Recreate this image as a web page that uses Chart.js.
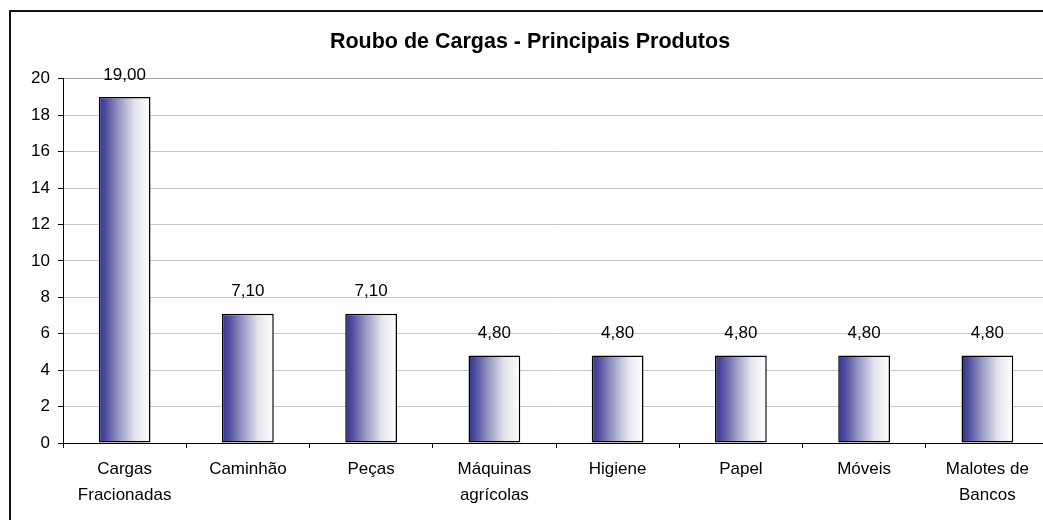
<!DOCTYPE html>
<html>
<head>
<meta charset="utf-8">
<script src="https://cdn.jsdelivr.net/npm/chart.js@4"></script>
<style>
  html, body { margin: 0; padding: 0; background: #fff; overflow: hidden; width: 1043px; height: 520px; }
  #box { position: absolute; left: 9px; top: 10px; width: 1060px; height: 530px; border-left: 2px solid #111; border-top: 2px solid #111; box-sizing: border-box; background: #fff; }
  #wrap { position: absolute; left: 0; top: 0; width: 1058px; height: 528px; }
</style>
</head>
<body>
<div id="box"><div id="wrap"><canvas id="c"></canvas></div></div>
<script>
const categories = [
  ['Cargas', 'Fracionadas'],
  'Caminhão',
  'Peças',
  ['Máquinas', 'agrícolas'],
  'Higiene',
  'Papel',
  'Móveis',
  ['Malotes de', 'Bancos']
];
const values = [19.00, 7.10, 7.10, 4.80, 4.80, 4.80, 4.80, 4.80];
const yTicks = [0, 2, 4, 6, 8, 10, 12, 14, 16, 18, 20];
const titleText = 'Roubo de Cargas - Principais Produtos';

const BAR_PCT = 0.42;
const FONT = 'Arial, "Liberation Sans", sans-serif';

function barGradient(c) {
  const chart = c.chart;
  const xs = chart.scales && chart.scales.x;
  if (!xs || !chart.chartArea || c.dataIndex === undefined || !isFinite(xs.width) || xs.width <= 0) return '#7777b0';
  const cx = xs.getPixelForValue(c.dataIndex);
  const w = xs.width / categories.length * BAR_PCT;
  const g = chart.ctx.createLinearGradient(cx - w / 2, 0, cx + w / 2, 0);
  g.addColorStop(0, '#333390');
  g.addColorStop(0.12, '#4a4a9c');
  g.addColorStop(0.4, '#9a9ac4');
  g.addColorStop(0.7, '#e4e4ee');
  g.addColorStop(1, '#ffffff');
  return g;
}

const valueLabels = {
  id: 'valueLabels',
  afterDatasetsDraw(chart) {
    const ctx = chart.ctx;
    const meta = chart.getDatasetMeta(0);
    ctx.save();
    ctx.font = '17px ' + FONT;
    ctx.fillStyle = '#000';
    ctx.textAlign = 'center';
    ctx.textBaseline = 'middle';
    meta.data.forEach((bar, i) => {
      const txt = values[i].toFixed(2).replace('.', ',');
      ctx.fillText(txt, bar.x, bar.y - 22);
    });
    ctx.restore();
  }
};

new Chart(document.getElementById('c'), {
  type: 'bar',
  data: {
    labels: categories,
    datasets: [{
      data: values,
      backgroundColor: barGradient,
      borderColor: '#000',
      borderWidth: 1.5,
      borderSkipped: false,
      barPercentage: BAR_PCT,
      categoryPercentage: 1.0
    }]
  },
  options: {
    responsive: true,
    maintainAspectRatio: false,
    animation: false,
    devicePixelRatio: 1,
    layout: { padding: { left: 0, right: 20, top: 0, bottom: 0 } },
    plugins: {
      legend: { display: false },
      tooltip: { enabled: false },
      title: {
        display: true,
        text: titleText,
        color: '#000',
        font: { family: FONT, size: 21.5, weight: 'bold', lineHeight: 1.2 },
        padding: { top: 17, bottom: 24 }
      }
    },
    scales: {
      x: {
        offset: true,
        grid: { offset: true, drawOnChartArea: false, drawTicks: true, tickLength: 5, color: '#000', tickColor: '#000' },
        border: { display: true, color: '#000', width: 1 },
        ticks: { color: '#000', font: { family: FONT, size: 17, lineHeight: 1.55 }, padding: 8, maxRotation: 0, autoSkip: false },
        afterFit(s) { s.height = 97; }
      },
      y: {
        min: 0, max: 20,
        afterBuildTicks(s) { s.ticks = yTicks.map(v => ({ value: v })); },
        grid: { color: (c) => (c.tick && c.tick.value === 20 ? '#a0a0a0' : '#c8c8c8'), tickColor: '#000', tickLength: 5, lineWidth: 1 },
        border: { display: true, color: '#000', width: 1 },
        ticks: { color: '#000', font: { family: FONT, size: 17 }, padding: 8, stepSize: 2 },
        afterFit(s) { s.width = 52; }
      }
    }
  },
  plugins: [valueLabels]
});
</script>
</body>
</html>
